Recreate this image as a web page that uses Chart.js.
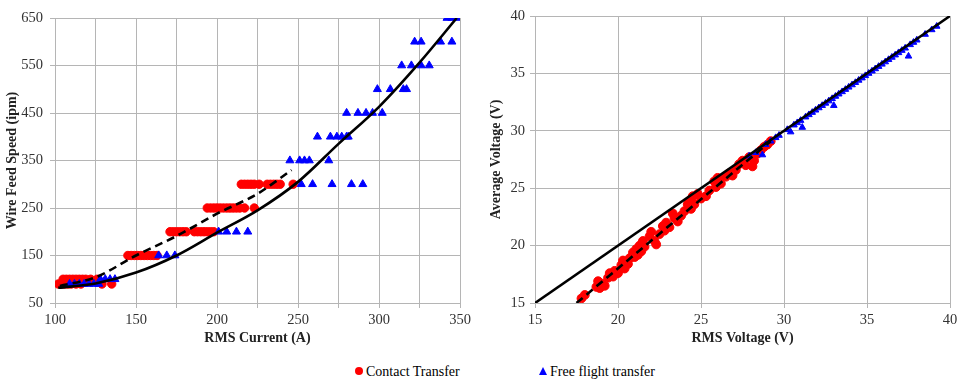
<!DOCTYPE html>
<html>
<head>
<meta charset="utf-8">
<script src="https://cdn.jsdelivr.net/npm/chart.js@4"></script>
<style>
  html, body { margin: 0; padding: 0; background: #fff; }
  #wrap { position: relative; width: 970px; height: 386px; overflow: hidden; background: #fff; }
  #c1 { position: absolute; left: 0; top: 0; }
  #c2 { position: absolute; left: 480px; top: 0; }
  .leg { position: absolute; top: 363px; font-family: "Liberation Serif", "Times New Roman", serif; font-size: 14px; color: #000; white-space: nowrap; line-height: 18px; }
  .dot { display: inline-block; width: 8px; height: 8px; border-radius: 50%; background: #ff0000; margin-right: 3px; vertical-align: 1px; }
  .tri { display: inline-block; width: 0; height: 0; border-left: 4px solid transparent; border-right: 4px solid transparent; border-bottom: 8px solid #0000ff; margin-right: 3px; vertical-align: 1px; }
</style>
</head>
<body>
<div id="wrap">
  <canvas id="c1" width="475" height="350"></canvas>
  <canvas id="c2" width="490" height="350"></canvas>
  <div class="leg" style="left:355px;"><span class="dot"></span>Contact Transfer</div>
  <div class="leg" style="left:539px;"><span class="tri"></span>Free flight transfer</div>
</div>
<script>
// ---------- Left chart data: RMS Current (A) vs Wire Feed Speed (ipm) ----------
const contactCurrent = [102,104,106,108,110,113,116,129,135,
  105,107,109,111,113,115,117,119,122,126,
  145,147,149,151,153,155,157,159,161,163,
  171,173,175,177,179,181,186,188,190,192,194,196,198,
  194,196,198,200,202,204,206,208,210,212,214,217,223,
  215,217,219,221,223,226,231,233,235,237,239,247];
const contactWfs = [90,90,90,90,90,90,90,90,90,
  100,100,100,100,100,100,100,100,100,100,
  150,150,150,150,150,150,150,150,150,150,
  200,200,200,200,200,200,200,200,200,200,200,200,200,
  250,250,250,250,250,250,250,250,250,250,250,250,250,
  300,300,300,300,300,300,300,300,300,300,300,300];
const freeCurrent = [109,112,115,118,121,124,127,
  128,131,134,137,
  164,169,174,
  201,206,212,219,
  252,259,271,283,290,
  245,251,254,257,269,
  262,270,274,277,280,281,
  280,287,292,296,302,
  299,307,315,317,
  314,320,326,331,
  322,326,338,345,
  342,345,348];
const freeWfs = [90,90,90,90,90,90,90,
  100,100,100,100,
  150,150,150,
  200,200,200,200,
  300,300,300,300,300,
  350,350,350,350,350,
  400,400,400,400,400,400,
  450,450,450,450,450,
  500,500,500,500,
  550,550,550,550,
  600,600,600,600,
  650,650,650];
const fitAllCurrent = [102,125,150,175,200,225,250,275,300,325,348];
const fitAllWfs     = [82,91,114,150,198,245,305,385,463,556,650];
const fitContactCurrent = [103,125,150,175,200,225,246];
const fitContactWfs     = [86,104,150,191,238,280,330];
const leftXTicks = [100,150,200,250,300,350];
const leftYTicks = [50,150,250,350,450,550,650];

// ---------- Right chart data: RMS Voltage (V) vs Average Voltage (V) ----------
const contactRmsV = [17.8,18.0,18.7,18.8,18.9,19.0,19.2,19.4,19.5,19.7,19.8,20.0,20.2,20.3,20.4,20.6,20.7,20.9,21.0,21.1,
  21.2,21.3,21.4,21.5,21.6,21.9,22.0,22.2,22.3,22.5,22.7,22.8,22.9,23.1,23.3,23.4,23.6,23.8,24.0,24.2,
  24.3,24.4,24.5,24.6,24.8,25.0,25.3,25.5,25.8,25.9,26.0,26.2,26.5,26.7,26.9,27.1,27.3,27.5,27.7,27.9,
  28.1,28.2,28.4,28.6,28.8,29.0,29.2];
const contactAvgV = [15.4,15.7,16.4,16.9,16.3,16.7,16.5,17.2,17.6,17.3,17.8,17.6,18.3,18.7,18.0,18.4,18.9,19.4,19.0,19.7,
  19.2,20.0,19.5,20.4,19.9,20.8,21.2,20.4,20.1,21.0,21.7,21.3,22.0,21.6,22.8,22.4,22.1,22.6,23.0,23.6,
  23.9,23.2,24.3,23.6,24.5,24.1,24.3,24.8,25.6,25.1,25.9,25.4,26.0,26.3,26.1,26.6,27.1,27.4,27.0,27.7,
  26.9,27.4,28.0,28.3,28.6,28.8,29.1];
const freeRmsV = [27.9,28.3,28.7,28.9,29.2,29.5,29.7,30.2,30.4,30.6,30.8,31.0,31.1,31.3,31.5,31.7,31.9,32.1,32.3,32.5,
  32.7,32.9,33.0,33.1,33.3,33.5,33.7,33.9,34.1,34.3,34.5,34.7,34.9,35.1,35.3,35.5,35.7,35.9,36.1,36.3,
  36.5,36.7,36.9,37.1,37.3,37.5,37.6,37.8,38.0,38.5,38.9,39.2];
const freeAvgV = [27.8,28.1,27.9,28.8,29.1,29.4,29.6,30.1,29.9,30.5,30.7,30.9,30.3,31.2,31.4,31.6,31.8,32.0,32.2,32.4,
  32.6,32.8,32.2,33.0,33.2,33.4,33.6,33.8,34.0,34.2,34.4,34.6,34.8,35.0,35.2,35.4,35.6,35.8,36.0,36.2,
  36.4,36.6,36.8,37.0,37.2,36.5,37.5,37.7,37.9,38.4,38.8,39.1];
const identityV = [15,40];
const fitContactRmsV = [17.5,29.2];
const fitContactAvgV = [15.0,29.1];
const rightTicks = [15,20,25,30,35,40];

// ---------- helpers ----------
const pts = (xs, ys) => xs.map((x, i) => ({x: x, y: ys[i]}));
const FONT = '"Liberation Serif", "Times New Roman", serif';
const GRID = '#b5b5b5';
Chart.defaults.font.family = FONT;
Chart.defaults.color = '#333';
Chart.defaults.animation = false;

const whiteBg = {
  id: 'whiteBg',
  beforeDraw(chart) {
    const c = chart.ctx; c.save(); c.fillStyle = '#fff';
    c.fillRect(0, 0, chart.width, chart.height); c.restore();
  }
};

function datasets(cx, cy, fx, fy, lineA, lineB, rRed, rBlue) {
  return [
    { label: 'fitA', data: lineA, showLine: true, pointRadius: 0, borderColor: '#000', borderWidth: 2.6,
      cubicInterpolationMode: 'monotone', order: 0 },
    { label: 'fitB', data: lineB, showLine: true, pointRadius: 0, borderColor: '#000', borderWidth: 2.6,
      borderDash: [8, 5], cubicInterpolationMode: 'monotone', order: 0 },
    { label: 'Free flight transfer', data: pts(fx, fy), pointStyle: 'triangle', pointRadius: rBlue,
      backgroundColor: '#0000ff', borderColor: '#0000ff', borderWidth: 1, order: 1 },
    { label: 'Contact Transfer', data: pts(cx, cy), pointStyle: 'circle', pointRadius: rRed,
      backgroundColor: '#ff0000', borderColor: '#ff0000', borderWidth: 1, order: 2 }
  ];
}

function axisX(min, max, step, show, title, titlePadBottom) {
  return {
    type: 'linear', min: min, max: max,
    afterFit(s) { s.height = 47; },
    afterBuildTicks(s) { const t = []; for (let v = min; v <= max + 1e-9; v += step) t.push({value: v}); s.ticks = t; },
    ticks: { autoSkip: false, maxRotation: 0, padding: 3, color: '#333', font: { family: FONT, size: 14.5 },
      callback: v => (show.includes(v) ? String(v) : '') },
    grid: { color: GRID, lineWidth: 1, tickLength: 5, drawTicks: true },
    border: { color: GRID, width: 1 },
    title: { display: true, text: title, color: '#222', font: { family: FONT, size: 14, weight: 'bold' },
      padding: { top: 0, bottom: titlePadBottom } }
  };
}
function axisY(min, max, step, show, title, width, tickPad, titlePadTop) {
  return {
    type: 'linear', min: min, max: max,
    afterFit(s) { s.width = width; },
    afterBuildTicks(s) { const t = []; for (let v = min; v <= max + 1e-9; v += step) t.push({value: v}); s.ticks = t; },
    ticks: { autoSkip: false, padding: tickPad, color: '#333', font: { family: FONT, size: 14.5 },
      callback: v => (show.includes(v) ? String(v) : '') },
    grid: { color: GRID, lineWidth: 1, tickLength: 5, drawTicks: true },
    border: { color: GRID, width: 1 },
    title: { display: true, text: title, color: '#222', font: { family: FONT, size: 14, weight: 'bold' },
      padding: { top: titlePadTop, bottom: 0 } }
  };
}

new Chart(document.getElementById('c1'), {
  type: 'scatter',
  data: { datasets: datasets(contactCurrent, contactWfs, freeCurrent, freeWfs,
    pts(fitAllCurrent, fitAllWfs), pts(fitContactCurrent, fitContactWfs), 4.2, 4.6) },
  options: {
    responsive: false, animation: false,
    layout: { padding: { left: 0, right: 15, top: 18, bottom: 0 } },
    plugins: { legend: { display: false }, tooltip: { enabled: false } },
    scales: {
      x: axisX(100, 350, 25, leftXTicks, 'RMS Current (A)', 3),
      y: axisY(50, 650, 100, leftYTicks, 'Wire Feed Speed (ipm)', 55, 7, 4)
    }
  },
  plugins: [whiteBg]
});

new Chart(document.getElementById('c2'), {
  type: 'scatter',
  data: { datasets: datasets(contactRmsV, contactAvgV, freeRmsV, freeAvgV,
    pts(identityV, identityV), pts(fitContactRmsV, fitContactAvgV), 4.4, 3.8) },
  options: {
    responsive: false, animation: false,
    layout: { padding: { left: 0, right: 20, top: 16, bottom: 0 } },
    plugins: { legend: { display: false }, tooltip: { enabled: false } },
    scales: {
      x: axisX(15, 40, 5, rightTicks, 'RMS Voltage (V)', 3),
      y: axisY(15, 40, 5, rightTicks, 'Average Voltage (V)', 55, 5, 8)
    }
  },
  plugins: [whiteBg]
});
</script>
</body>
</html>
